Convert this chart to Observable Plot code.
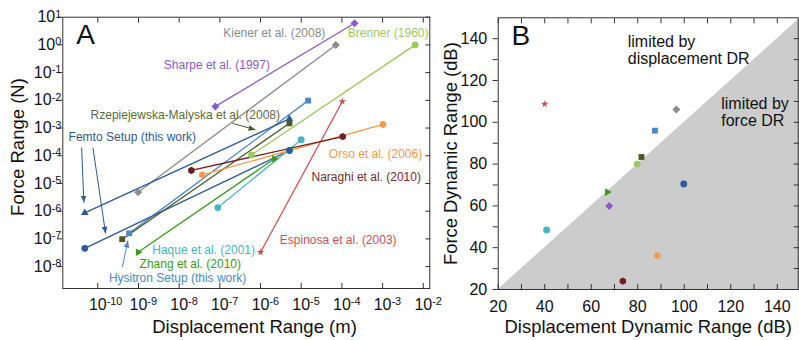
<!DOCTYPE html>
<html><head><meta charset="utf-8">
<script src="https://cdn.jsdelivr.net/npm/d3@7"></script>
<script src="https://cdn.jsdelivr.net/npm/@observablehq/plot@0.6"></script>
<style>
body{margin:0;background:#fff;}
#wrap{position:relative;width:799px;height:340px;overflow:hidden;}
#wrap svg{position:absolute;top:0;overflow:visible;}
</style></head><body><div id="wrap"></div>
<script>
// ---------- Panel A data (log10 values) ----------
const studyA = ["Sharpe et al. (1997)","Kiener et al. (2008)","Brenner (1960)","Hysitron Setup (this work)","Femto Setup (this work) A","Femto Setup (this work) B","Rzepiejewska-Malyska et al. (2008)","Zhang et al. (2010)","Haque et al. (2001)","Espinosa et al. (2003)","Orso et al. (2006)","Naraghi et al. (2010)"];
const logDispMin  = [-7.11, -9.01, -6.22, -9.23, -10.32, -10.32, -9.40, -9.01, -7.05, -6.00, -7.43, -7.70];
const logDispMax  = [-3.69, -4.15, -2.20, -4.83, -5.29, -5.29, -5.29, -5.66, -5.00, -3.99, -2.99, -3.98];
const logForceMin = [-2.22, -5.32, -3.97, -6.80, -6.06, -7.34, -7.01, -7.48, -5.87, -7.48, -4.69, -4.53];
const logForceMax = [0.78, 0.00, 0.00, -2.01, -2.67, -3.81, -2.83, -4.11, -3.42, -2.04, -2.87, -3.31];
const colorA  = ["#8a5ad0","#8c8c8c","#9cc95c","#4a88cc","#2b5a9b","#2b5a9b","#4b5a2a","#3a9a1c","#45b6c0","#d24e4e","#f79a4c","#6e1f20"];
const symbolA = ["square","square","circle","square","triangle","circle","square","triangle","circle","star","hexagon","hexagon"];
const rotateA = [45,45,0,0,0,0,0,90,0,0,0,0];

const annText = ["Femto Setup (this work)","Hysitron Setup (this work)","Zhang et al. (2010)","Haque et al. (2001)","Espinosa et al. (2003)","Naraghi et al. (2010)","Orso et al. (2006)","Rzepiejewska-Malyska et al. (2008)","Sharpe et al. (1997)","Kiener et al. (2008)","Brenner (1960)"];
const annLogX = [-10.717, -9.727, -8.973, -8.661, -5.526, -4.747, -4.322, -10.177, -8.376, -6.916, -3.855];
const annLogY = [-3.332, -8.408, -7.903, -7.397, -7.036, -4.776, -3.931, -2.549, -0.744, 0.422, 0.422];
const annColor = ["#2b5a9b","#4a88cc","#3a9a1c","#45b6c0","#d24e4e","#7a2a2a","#f79a4c","#5b6a3a","#8a5ad0","#8c8c8c","#9cc95c"];

const arrLogX1 = [-10.398, -10.120, -9.398, -6.695];
const arrLogY1 = [-3.704, -3.704, -8.025, -2.827];
const arrLogX2 = [-10.342, -9.808, -9.260, -6.123];
const arrLogY2 = [-5.690, -6.809, -7.061, -3.065];
const arrColor = ["#2b5a9b","#2b5a9b","#4a88cc","#4b5a2a"];

const xTickExpA = [-10,-9,-8,-7,-6,-5,-4,-3,-2];
const yTickExpA = [-8,-7,-6,-5,-4,-3,-2,-1,0,1];

// ---------- Panel B data ----------
const studyB  = ["Espinosa","Kiener","Hysitron","Rzepiejewska-Malyska","Brenner","Zhang","Sharpe","Haque","Femto","Orso","Naraghi"];
const dispDR  = [40.0, 96.6, 87.4, 81.6, 79.8, 66.9, 67.7, 40.8, 99.8, 88.4, 73.6];
const forceDR = [108.8, 106.1, 96.0, 83.4, 80.0, 66.6, 60.0, 48.5, 70.5, 36.2, 24.0];
const colorB  = ["#d24e4e","#8c8c8c","#4a88cc","#4b5a2a","#9cc95c","#3a9a1c","#8a5ad0","#45b6c0","#2b5a9b","#f79a4c","#6e1f20"];
const symbolB = ["star","square","square","square","circle","triangle","square","circle","circle","hexagon","hexagon"];
const rotateB = [0,45,0,0,0,90,45,0,0,0,0];
const regionText = ["limited by\ndisplacement DR","limited by\nforce DR"];
const regionX = [75.7, 115.9];
const regionY = [134.5, 105.0];
const tickB = [20,30,40,50,60,70,80,90,100,110,120,130,140];
const labelB = [20,40,60,80,100,120,140];
const diagB = [20, 150];

// ---------- helpers ----------
const FONT = "'Liberation Sans', Arial, Helvetica, sans-serif";
const rSym = {circle:3.4, square:3.3, triangle:2.8, star:2.4, hexagon:3.2};
const rOf = (s, rot) => s === "square" && rot === 45 ? 3.2 : rSym[s];
const P = v => 10 ** v;
const INK = "#333";

// ---------- Panel A ----------
const idxA = d3.range(studyA.length);
const marksA = [];
marksA.push(Plot.link(idxA, {
  x1: i => P(logDispMin[i]), y1: i => P(logForceMin[i]),
  x2: i => P(logDispMax[i]), y2: i => P(logForceMax[i]),
  stroke: i => colorA[i], strokeWidth: 1.3
}));
idxA.forEach(i => {
  marksA.push(Plot.dot([[logDispMin[i], logForceMin[i]], [logDispMax[i], logForceMax[i]]], {
    x: d => P(d[0]), y: d => P(d[1]), symbol: symbolA[i], rotate: rotateA[i],
    r: rOf(symbolA[i], rotateA[i]), fill: colorA[i], stroke: "none"
  }));
});
const idxArr = d3.range(arrColor.length);
marksA.push(Plot.link(idxArr, {
  x1: i => P(arrLogX1[i]), y1: i => P(arrLogY1[i]),
  x2: i => P(arrLogX2[i]), y2: i => P(arrLogY2[i]),
  stroke: i => arrColor[i], strokeWidth: 1
}));
marksA.push(Plot.text(d3.range(annText.length), {
  x: i => P(annLogX[i]), y: i => P(annLogY[i]), text: i => annText[i],
  fill: i => annColor[i], textAnchor: "start", lineAnchor: "middle", fontSize: 12
}));
const xt = xTickExpA.map(P), yt = yTickExpA.map(P);
const fmtExp = d => "10^" + Math.round(Math.log10(d));
marksA.push(
  Plot.axisX(xt, {anchor: "bottom", tickSize: -5, tickFormat: () => "", label: null, stroke: INK}),
  Plot.axisX(xt, {anchor: "top", tickSize: -5, tickFormat: () => "", label: null, stroke: INK}),
  Plot.axisY(yt, {anchor: "left", tickSize: 5, tickFormat: () => "", label: null, stroke: INK}),
  Plot.axisY(yt, {anchor: "right", tickSize: -5, tickFormat: () => "", label: null, stroke: INK}),
  Plot.axisX(xt, {anchor: "bottom", tickSize: 0, tickPadding: 10, tickFormat: fmtExp, label: null, fontSize: 16, fill: "#111"}),
  Plot.axisY(yt, {anchor: "left", tickSize: 0, tickPadding: 1.5, tickFormat: fmtExp, label: null, fontSize: 16, fill: "#111"}),
  Plot.text(["Displacement Range (m)"], {frameAnchor: "bottom", dy: 38.1, dx: 8.2, lineAnchor: "middle", fontSize: 18.5, fill: "#111"}),
  Plot.text(["Force Range (N)"], {frameAnchor: "left", dx: -44.3, dy: -5.8, rotate: -90, lineAnchor: "middle", textAnchor: "middle", fontSize: 18.5, fill: "#111"}),
  Plot.text(["A"], {frameAnchor: "top-left", dx: 13.5, dy: 6.5, fontSize: 28, fill: "#111"}),
  Plot.frame({stroke: INK, strokeWidth: 1})
);

const svgA = Plot.plot({
  width: 440, height: 340,
  marginLeft: 62.3, marginRight: 10.7, marginTop: 16.7, marginBottom: 52,
  x: {type: "log", domain: [P(-10.86), P(-1.84)]},
  y: {type: "log", domain: [P(-8.79), P(1)]},
  color: {type: "identity"},
  style: `background: transparent; font-family: ${FONT}; font-size: 16px; overflow: visible;`,
  marks: marksA
});

// superscript exponents
d3.select(svgA).selectAll("text").each(function() {
  const t = this.textContent;
  if (!t.includes("^")) return;
  const [b, e] = t.split("^");
  this.textContent = b;
  d3.select(this).append("tspan").attr("dy", "-0.42em").attr("font-size", "0.68em").text(e);
});
d3.select(svgA).selectAll('g[aria-label="x-axis tick label"] text')
  .attr("text-anchor", "start").attr("dx", "-0.556em");

// filled arrow heads on the annotation links (the last link group)
const linkGroups = svgA.querySelectorAll('g[aria-label="link"]');
const arrowGroup = linkGroups[linkGroups.length - 1];
const defs = d3.select(svgA).insert("defs", ":first-child");
d3.select(arrowGroup).selectAll("path, line").each(function(_, k) {
  const id = "ah" + k;
  defs.append("marker").attr("id", id).attr("viewBox", "0 0 10 8")
    .attr("refX", 10).attr("refY", 4).attr("markerWidth", 7).attr("markerHeight", 5.6)
    .attr("markerUnits", "userSpaceOnUse").attr("orient", "auto")
    .append("path").attr("d", "M0,0L10,4L0,8z").attr("fill", arrColor[k]).attr("stroke", "none");
  d3.select(this).attr("marker-end", `url(#${id})`);
});

// ---------- Panel B ----------
const idxB = d3.range(studyB.length);
const marksB = [
  Plot.areaY(diagB, {x: d => d, y1: 20, y2: d => d, fill: "#cccccc"})
];
idxB.forEach(i => {
  marksB.push(Plot.dot([i], {
    x: j => dispDR[j], y: j => forceDR[j], symbol: symbolB[i], rotate: rotateB[i],
    r: rOf(symbolB[i], rotateB[i]), fill: colorB[i], stroke: "none"
  }));
});
marksB.push(
  Plot.text(d3.range(regionText.length), {x: i => regionX[i], y: i => regionY[i], text: i => regionText[i],
    textAnchor: "start", lineAnchor: "middle", lineHeight: 1.04, fontSize: 16, fill: "#111"}),
  Plot.axisX(tickB, {anchor: "bottom", tickSize: -5, tickFormat: () => "", label: null, stroke: INK}),
  Plot.axisX(tickB, {anchor: "top", tickSize: -5, tickFormat: () => "", label: null, stroke: INK}),
  Plot.axisY(tickB, {anchor: "left", tickSize: 5, tickFormat: () => "", label: null, stroke: INK}),
  Plot.axisY(tickB, {anchor: "right", tickSize: -5, tickFormat: () => "", label: null, stroke: INK}),
  Plot.axisX(labelB, {anchor: "bottom", tickSize: 0, tickPadding: 11, tickFormat: d => String(d), label: null, fontSize: 16, fill: "#111"}),
  Plot.axisY(labelB, {anchor: "left", tickSize: 0, tickPadding: 11, tickFormat: d => String(d), label: null, fontSize: 16, fill: "#111"}),
  Plot.text(["Displacement Dynamic Range (dB)"], {frameAnchor: "bottom", dy: 38.1, lineAnchor: "middle", fontSize: 18.4, fill: "#111"}),
  Plot.text(["Force Dynamic Range (dB)"], {frameAnchor: "left", dx: -47.2, rotate: -90, lineAnchor: "middle", textAnchor: "middle", fontSize: 18.4, fill: "#111"}),
  Plot.text(["B"], {frameAnchor: "top-left", dx: 13.3, dy: 7.5, fontSize: 28, fill: "#111"}),
  Plot.frame({stroke: INK, strokeWidth: 1})
);
const svgB = Plot.plot({
  width: 369, height: 340,
  marginLeft: 67.7, marginRight: 1.3, marginTop: 17.3, marginBottom: 51,
  x: {domain: [20, 149]},
  y: {domain: [20, 150]},
  style: `background: transparent; font-family: ${FONT}; font-size: 16px; overflow: visible;`,
  marks: marksB
});
svgB.style.left = "430px";
svgA.style.left = "0px";
const wrap = document.getElementById("wrap");
wrap.appendChild(svgB);
wrap.appendChild(svgA);
</script></body></html>
